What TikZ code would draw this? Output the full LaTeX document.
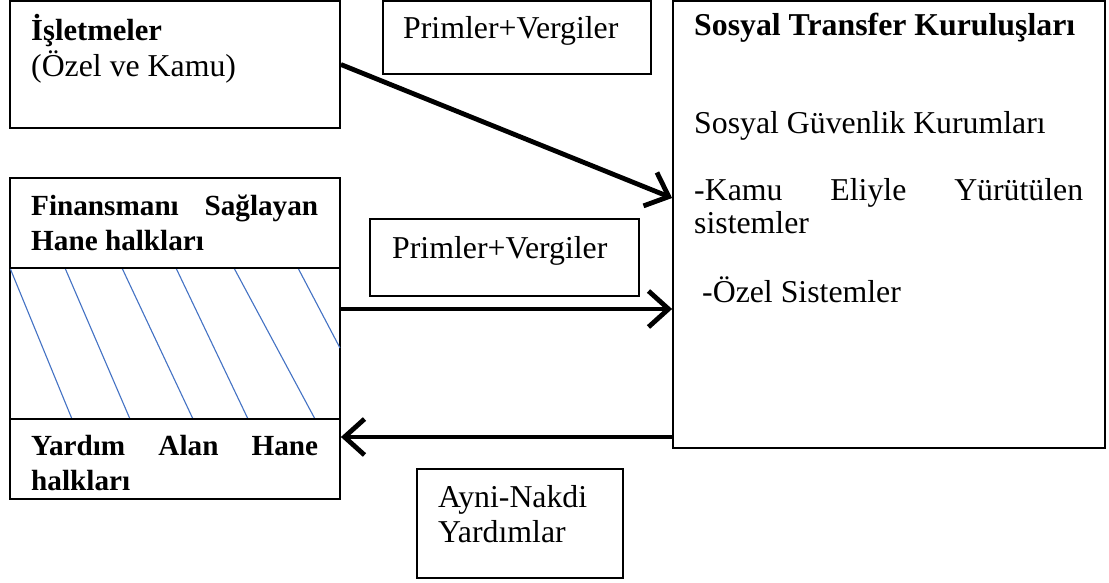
\documentclass[tikz,border=0pt]{standalone}
\usepackage{fontspec}
\setmainfont{Liberation Serif}
\usetikzlibrary{arrows.meta}
\definecolor{hatchblue}{RGB}{68,114,196}
\tikzset{
  box/.style={draw=black, line width=1.8pt, inner sep=0pt, fill=none},
  txt/.style={anchor=base west, inner sep=0pt, font=\fontsize{31.8}{36.5}\selectfont},
  btxt/.style={txt, font=\fontsize{31.8}{36.5}\selectfont\bfseries},
  sbtxt/.style={txt, font=\fontsize{29.2}{34}\selectfont\bfseries},
  flow/.style={line width=4.8pt, -{Straight Barb[length=20pt,width=36pt,line width=4.8pt]}},
  hatchline/.style={draw=hatchblue, line width=1.1pt},
  divider/.style={draw=black, line width=1.8pt}
}
\begin{document}
\begin{tikzpicture}[x=1pt,y=-1pt]
\useasboundingbox (0,0) rectangle (1109,582);
\fill[white] (0,0) rectangle (1109,582);
% boxes
\node[box, minimum width=330pt, minimum height=127pt] (isl) at (175,64.5) {};
\node[box, minimum width=268pt, minimum height=73pt] (pv1) at (517,37.5) {};
\node[box, minimum width=432pt, minimum height=447pt] (big) at (889,224.5) {};
\node[box, minimum width=330pt, minimum height=321pt] (fin) at (175,338.5) {};
\node[box, minimum width=269pt, minimum height=77pt] (pv2) at (504.5,257.5) {};
\node[box, minimum width=206pt, minimum height=109pt] (ayni) at (520,523.5) {};
% hatch
\draw[hatchline] (10,268) -- (72,419);
\draw[hatchline] (65,268) -- (130,419);
\draw[hatchline] (122,268) -- (193,419);
\draw[hatchline] (176,268) -- (248,419);
\draw[hatchline] (234,268) -- (315,419);
\draw[hatchline] (298,268) -- (340,348);
% dividers
\coordinate (d1) at (0,268);
\coordinate (d2) at (0,419);
\draw[divider] (fin.west |- d1) -- (fin.east |- d1);
\draw[divider] (fin.west |- d2) -- (fin.east |- d2);
% texts
\node[txt, font=\fontsize{30.6}{35}\selectfont\bfseries] (t1) at (31,40) {İşletmeler};
\node[txt] (t2) at (31,76) {(Özel ve Kamu)};
\node[txt] (t3) at (403,38) {Primler+Vergiler};
\node[btxt] (t4) at (694,35) {Sosyal Transfer Kuruluşları};
\node[txt] (t5) at (694,133) {Sosyal Güvenlik Kurumları};
\node[txt] (t6) at (694,200) {\hbox to 389pt{-Kamu\hfill Eliyle\hfill Yürütülen}};
\node[txt] (t7) at (694,233) {sistemler};
\node[txt] (t8) at (702,302) {-Özel Sistemler};
\node[sbtxt] (t9) at (31,215) {\hbox to 287pt{Finansmanı\hfill Sağlayan}};
\node[sbtxt] (t10) at (31,250) {Hane halkları};
\node[sbtxt] (t11) at (31,455) {\hbox to 287pt{Yardım\hfill Alan\hfill Hane}};
\node[sbtxt] (t12) at (31,490) {halkları};
\node[txt] (t13) at (392,258) {Primler+Vergiler};
\node[txt] (t14) at (438,507) {Ayni-Nakdi};
\node[txt] (t15) at (438,542) {Yardımlar};
% arrows
\coordinate (a1) at (0,198);
\coordinate (a2) at (0,309);
\coordinate (a3) at (0,437);
\draw[flow] (isl.east) -- (big.west |- a1);
\draw[flow] (fin.east |- a2) -- (big.west |- a2);
\draw[flow] (big.west |- a3) -- (fin.east |- a3);
\end{tikzpicture}
\end{document}
